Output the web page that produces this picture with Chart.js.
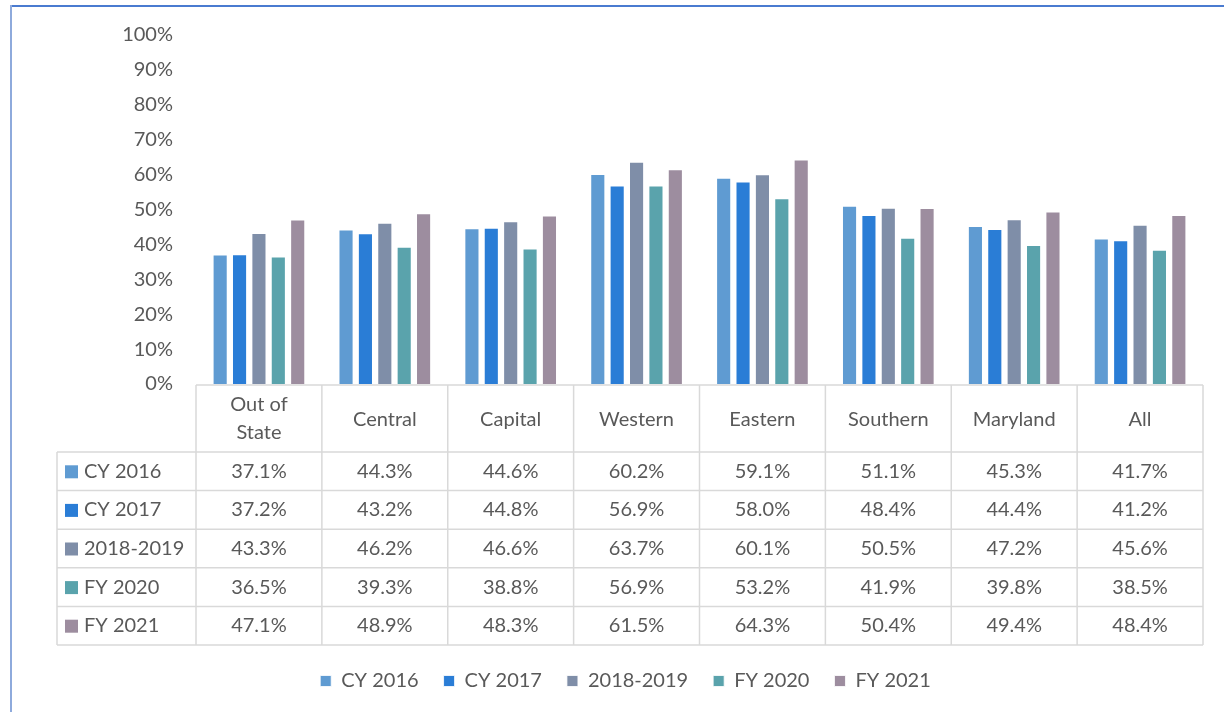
<!DOCTYPE html>
<html>
<head>
<meta charset="utf-8">
<script src="https://cdn.jsdelivr.net/npm/chart.js@4"></script>
<style>
  html, body { margin: 0; padding: 0; background: #fff; }
  #wrap { position: relative; width: 1224px; height: 712px; }
</style>
</head>
<body>
<div id="wrap"><canvas id="chart" width="1224" height="712"></canvas></div>
<script>
// regions (table header) and series
const REGIONS = [["Out of", "State"], "Central", "Capital", "Western", "Eastern", "Southern", "Maryland", "All"];
const SERIES_NAMES = ["CY 2016", "CY 2017", "2018-2019", "FY 2020", "FY 2021"];
const SERIES_COLORS = ["#5f9bd2", "#2a7dd6", "#7f8ea8", "#5aa3ac", "#9d8d9f"];

const CY2016 = [37.1, 44.3, 44.6, 60.2, 59.1, 51.1, 45.3, 41.7];
const CY2017 = [37.2, 43.2, 44.8, 56.9, 58.0, 48.4, 44.4, 41.2];
const Y2018_2019 = [43.3, 46.2, 46.6, 63.7, 60.1, 50.5, 47.2, 45.6];
const FY2020 = [36.5, 39.3, 38.8, 56.9, 53.2, 41.9, 39.8, 38.5];
const FY2021 = [47.1, 48.9, 48.3, 61.5, 64.3, 50.4, 49.4, 48.4];

const Y_TICKS = [0, 10, 20, 30, 40, 50, 60, 70, 80, 90, 100];

const FONT = "Lato, 'Liberation Sans', sans-serif";
const TEXT_COLOR = "#595959";
const LINE_COLOR = "#d9d9d9";

const allSeries = [CY2016, CY2017, Y2018_2019, FY2020, FY2021];

// data table under the plot, aligned with the x scale
const tablePlugin = {
  id: "dataTable",
  beforeDraw(chart) {
    const { ctx } = chart;
    ctx.save();
    // outer frame lines (top + left)
    ctx.fillStyle = "#4a7bd0";
    ctx.fillRect(11, 5, 1213, 2);
    ctx.fillStyle = "#8eaadc";
    ctx.fillRect(10, 5, 2, 707);
    ctx.restore();
  },
  afterDraw(chart) {
    const { ctx, chartArea } = chart;
    const x = chart.scales.x;
    const n = REGIONS.length;
    const colW = (chartArea.right - chartArea.left) / n;
    const top = chartArea.bottom + 1;
    const headBottom = 452;
    const rowH = (645 - headBottom) / SERIES_NAMES.length;
    const labelLeft = 57;

    ctx.save();
    ctx.strokeStyle = LINE_COLOR;
    ctx.lineWidth = 1.5;
    ctx.beginPath();
    // header top line
    ctx.moveTo(chartArea.left, top);
    ctx.lineTo(chartArea.right, top);
    // row lines
    for (let r = 0; r <= SERIES_NAMES.length; r++) {
      const y = headBottom + r * rowH;
      ctx.moveTo(labelLeft, y);
      ctx.lineTo(chartArea.right, y);
    }
    // verticals
    for (let c = 0; c <= n; c++) {
      const xx = chartArea.left + c * colW;
      ctx.moveTo(xx, top);
      ctx.lineTo(xx, headBottom + SERIES_NAMES.length * rowH);
    }
    ctx.moveTo(labelLeft, headBottom);
    ctx.lineTo(labelLeft, headBottom + SERIES_NAMES.length * rowH);
    ctx.stroke();

    ctx.fillStyle = TEXT_COLOR;
    ctx.font = "20px " + FONT;
    ctx.textAlign = "center";
    ctx.textBaseline = "middle";
    REGIONS.forEach((lab, i) => {
      const cx = x.getPixelForValue(i);
      if (Array.isArray(lab)) {
        ctx.fillText(lab[0], cx, 405);
        ctx.fillText(lab[1], cx, 433);
      } else {
        ctx.fillText(lab, cx, 420);
      }
    });

    SERIES_NAMES.forEach((name, r) => {
      const cy = headBottom + r * rowH + rowH / 2;
      ctx.fillStyle = SERIES_COLORS[r];
      ctx.fillRect(65, cy - 6, 13, 13);
      ctx.fillStyle = TEXT_COLOR;
      ctx.textAlign = "left";
      ctx.fillText(name, 84, cy);
      ctx.textAlign = "center";
      allSeries[r].forEach((v, i) => {
        ctx.fillText(v.toFixed(1) + "%", x.getPixelForValue(i), cy);
      });
    });
    ctx.restore();
  }
};

new Chart(document.getElementById("chart"), {
  type: "bar",
  data: {
    labels: REGIONS.map(r => Array.isArray(r) ? r.join(" ") : r),
    datasets: SERIES_NAMES.map((name, i) => ({
      label: name,
      data: allSeries[i],
      backgroundColor: SERIES_COLORS[i],
      borderColor: "rgba(255,255,255,0.8)",
      borderWidth: 1,
      categoryPercentage: 0.77,
      barPercentage: 0.78
    }))
  },
  options: {
    responsive: false,
    animation: false,
    layout: { padding: { top: 35, right: 21, bottom: 11, left: 48 } },
    plugins: {
      tooltip: { enabled: false },
      legend: {
        position: "bottom",
        labels: {
          color: TEXT_COLOR,
          font: { family: FONT, size: 20 },
          boxWidth: 11,
          boxHeight: 11,
          padding: 25
        }
      }
    },
    scales: {
      x: {
        ticks: { display: false },
        grid: { display: false },
        border: { display: false },
        afterFit(scale) { scale.height = 262; }
      },
      y: {
        min: 0,
        max: 100,
        afterBuildTicks(scale) { scale.ticks = Y_TICKS.map(v => ({ value: v })); },
        afterFit(scale) { scale.width = 148; },
        ticks: {
          padding: 23,
          color: TEXT_COLOR,
          font: { family: FONT, size: 20 },
          callback: v => v + "%"
        },
        grid: { display: false, drawTicks: false },
        border: { display: false }
      }
    }
  },
  plugins: [tablePlugin]
});
</script>
</body>
</html>
